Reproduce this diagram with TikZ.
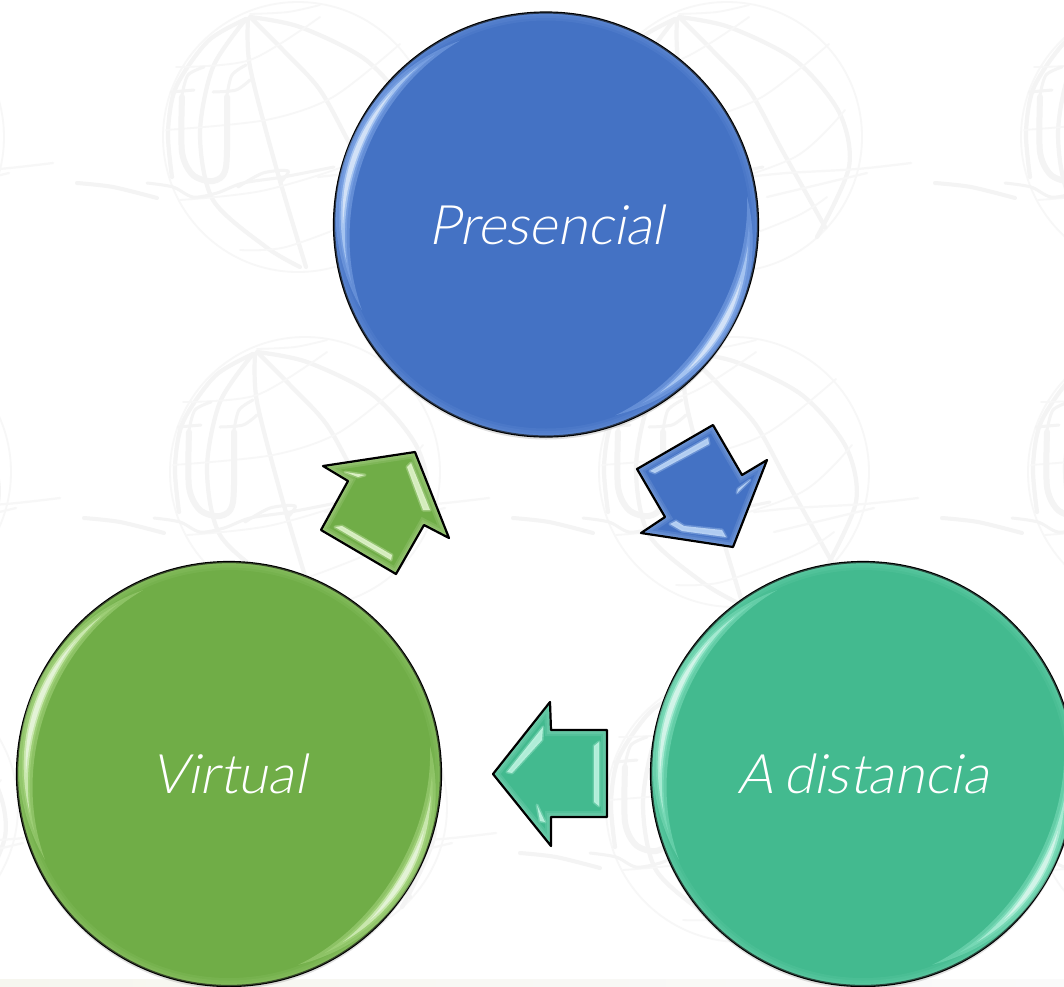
\documentclass[tikz,border=0pt]{standalone}
\usepackage{fontspec}
\setmainfont{Lato Light}[FakeSlant=0.2,WordSpace=0.7]
\usetikzlibrary{shapes.geometric}
\definecolor{wm}{HTML}{F4F4F4}
\definecolor{wmthin}{HTML}{F7F7F7}
\definecolor{cblue}{HTML}{4472C4}
\definecolor{cgreen}{HTML}{70AD47}
\definecolor{cteal}{HTML}{43BA8F}
\definecolor{mblue}{HTML}{7FA6E6}
\definecolor{mgreen}{HTML}{A5D47E}
\definecolor{mteal}{HTML}{7FDDBB}
\definecolor{lblue}{HTML}{C4DCFA}
\definecolor{lgreen}{HTML}{E6F8D2}
\definecolor{lteal}{HTML}{C4F7E5}
\definecolor{barl}{HTML}{F6F6EF}
\definecolor{barr}{HTML}{FAFAFA}
\tikzset{
  thickline/.style={wm,line width=4.2pt,line cap=round},
  thinline/.style={wmthin,line width=1.8pt,line cap=round},
  logoline/.style={wm,line width=6pt,line cap=round},
  bubble/.style={circle,draw=black,line width=2.2pt,minimum size=424pt,inner sep=0pt},
  bubbletext/.style={text=white,font=\fontsize{54.5}{60}\selectfont},
  globepic/.pic={
    \draw[thinline] (0,0) circle (135);
    \draw[thickline] plot[smooth] coordinates {(-126,40)(-130,-5)(-122,-50)(-90,-96)(-52,-118)};
    \draw[thickline] plot[smooth] coordinates {(-52,-118)(-85,-70)(-98,-3)(-85,63)(-32,110)(2,130)};
    \draw[thickline] plot[smooth] coordinates {(-50,-118)(-48,-70)(-22,30)(8,130)};
    \draw[thickline] plot[smooth] coordinates {(-46,-118)(-15,-87)(22,-47)(55,13)(98,90)};
    \draw[thickline] plot[smooth] coordinates {(-48,-120)(2,-110)(68,-77)(112,-25)(122,30)(90,100)};
    \draw[thinline] plot[smooth] coordinates {(-122,-70)(-48,-77)(22,-120)};
    \draw[thinline] plot[smooth] coordinates {(-132,-7)(-32,-17)(35,-40)(102,-93)};
    \draw[thinline] plot[smooth] coordinates {(-118,63)(-32,53)(68,20)(118,-27)};
    \draw[thinline] plot[smooth] coordinates {(-58,113)(-12,110)(68,80)(100,60)};
    \draw[thinline] plot[smooth] coordinates {(-48,-123)(-10,-125)(22,-132)};
    \draw[logoline] plot[smooth] coordinates {(-116,-40)(-116,15)(-105,38)(-85,44)(-72,30)(-71,-40)};
    \draw[thickline,line width=3pt] (-127,-45) -- (-104,-47);
    \draw[thickline,line width=3pt] plot[smooth] coordinates {(-85,-45)(-62,-47)(-48,-57)};
    \draw[thickline,line width=3pt] plot[smooth] coordinates {(-116,-42)(-110,-62)(-94,-70)};
    \draw[thickline,line width=3pt] plot[smooth] coordinates {(-71,-42)(-66,-62)(-52,-72)};
    \draw[thickline,line width=4pt] plot[smooth] coordinates {(-221,46)(-185,50)(-141,61)};
    \draw[thickline,line width=3pt] plot[smooth] coordinates {(-151,46)(-125,50)(-105,60)(-81,56)(-55,46)(-15,40)(36,30)};
    \draw[thickline,line width=3pt] plot[smooth] coordinates {(-60,50)(-35,36)(-10,34)(-18,46)};
    \draw[thinline,line width=2.2pt] plot[smooth] coordinates {(20,40)(60,36)(130,32)(184,26)};
    \draw[thinline,line width=2.2pt] plot[smooth] coordinates {(40,60)(90,48)(140,36)};
  }
}
\newcommand\cres[8]{%
  \fill[#7,opacity=#8] plot[variable=\t,domain=#5:#6,samples=45]
    ({#1+(#3+#4*sin(180*(\t-(#5))/((#6)-(#5))))*cos(\t)},{#2-(#3+#4*sin(180*(\t-(#5))/((#6)-(#5))))*sin(\t)})
    -- plot[variable=\t,domain=#6:#5,samples=45]
    ({#1+(#3-#4*sin(180*(\t-(#5))/((#6)-(#5))))*cos(\t)},{#2-(#3-#4*sin(180*(\t-(#5))/((#6)-(#5))))*sin(\t)})
    -- cycle;}
\newcommand\glint[6]{%
  \cres{#1}{#2}{203}{9}{#3}{#4}{#5}{.55}
  \cres{#1}{#2}{203}{6}{#3+8}{#4-8}{#5}{.7}
  \cres{#1}{#2}{203}{4}{#3+14}{#4-14}{#6}{.6}
  \cres{#1}{#2}{203}{2.4}{#3+24}{#4-24}{white}{.5}}
\newcommand\rim[3]{%
  \begin{scope}
    \clip (#1,#2) circle (212);
    \foreach \w in {16,11,6}{\draw[#3,opacity=.13,line width=\w pt] (#1,#2) circle (212);}
  \end{scope}}
\newcommand\bevel[3]{%
  \fill[#3] #1;
  \begin{scope}
    \clip #1;
    \foreach \w in {12,8,4}{\draw[#2,opacity=.13,line width=\w pt,line join=miter] #1;}
  \end{scope}}
\tikzset{softhl/.style={fill=#1,draw=#1,draw opacity=.3,line width=3pt,line join=round,fill opacity=.85}}
\begin{document}
\begin{tikzpicture}[x=1pt,y=-1pt]
\useasboundingbox (0,0) rectangle (1064,986);
\clip (0,0) rectangle (1064,986);
\fill[white] (0,0) rectangle (1064,986);
\shade[left color=barl,right color=barr] (0,979) rectangle (1064,986);
\foreach \gx/\gy in {-131/137,298/137,727/137,1156/137,-124/472,305/472,734/472,1163/472,-117/807,312/807,741/807,1170/807}{
  \pic at (\gx,\gy) {globepic};
}
\foreach \sx/\sy in {546/224.5,229/774,863/774}{
  \fill[black,opacity=.12] (\sx,\sy+2.5) circle (212.5);
}
\node[bubble,fill=cblue] (pres) at (546,224.5) {};
\rim{546}{224.5}{mblue}
\glint{546}{224.5}{115}{205}{mblue}{lblue}
\glint{546}{224.5}{-70}{8}{mblue}{lblue}
\node[bubbletext] (ptxt) at (pres.center) {Presencial};

\node[bubble,fill=cgreen] (virt) at (229,774) {};
\rim{229}{774}{mgreen}
\glint{229}{774}{115}{205}{mgreen}{lgreen}
\glint{229}{774}{-70}{8}{mgreen}{lgreen}
\node[bubbletext] (vtxt) at (virt.center) {Virtual};

\node[bubble,fill=cteal] (dist) at (863,774) {};
\rim{863}{774}{mteal}
\glint{863}{774}{115}{205}{mteal}{lteal}
\glint{863}{774}{-70}{8}{mteal}{lteal}
\node[bubbletext] (dtxt) at (dist.center) {A distancia};
\def\pa{(713,425) -- (742,475) -- (767,460) -- (733,547) -- (641,533) -- (665,517) -- (637,469) -- cycle}
\bevel{\pa}{lblue}{cblue}
\fill[softhl=lblue] (708,438) -- (709,444) -- (655,473) -- (650,471) -- cycle;
\fill[softhl=lblue] (670,524) -- (676,521) -- (684,526) -- (722,530) -- (726,537) -- (682,531) -- cycle;
\fill[softhl=lblue] (737,493) -- (750,480) -- (738,489) -- cycle;
\draw[black,line width=2.2pt,line join=round] \pa;
\def\pb{(415,452) -- (449,538) -- (424,525) -- (396,574) -- (321,530) -- (348,481) -- (323,466) -- cycle}
\bevel{\pb}{lgreen}{cgreen}
\fill[softhl=lgreen] (407,467) -- (411,463) -- (430,510) -- (423,510) -- cycle;
\fill[softhl=lgreen] (335,527) -- (342,526) -- (392,555) -- (391,560) -- cycle;
\fill[softhl=lgreen] (345,472) -- (365,475) -- (358,477) -- cycle;
\draw[black,line width=2.2pt,line join=round] \pb;
\def\pc{(493,774) -- (550,702) -- (551,730) -- (607,730) -- (607,817) -- (551,817) -- (551,846) -- cycle}
\bevel{\pc}{lteal}{cteal}
\fill[softhl=lteal] (543,727) -- (542,740) -- (512,773) -- (507,772) -- cycle;
\fill[softhl=lteal] (599,742) -- (599,806) -- (594,802) -- (594,746) -- cycle;
\fill[softhl=lteal] (537,805) -- (545,822) -- (540,821) -- cycle;
\draw[black,line width=2.2pt,line join=round] \pc;
\end{tikzpicture}
\end{document}
